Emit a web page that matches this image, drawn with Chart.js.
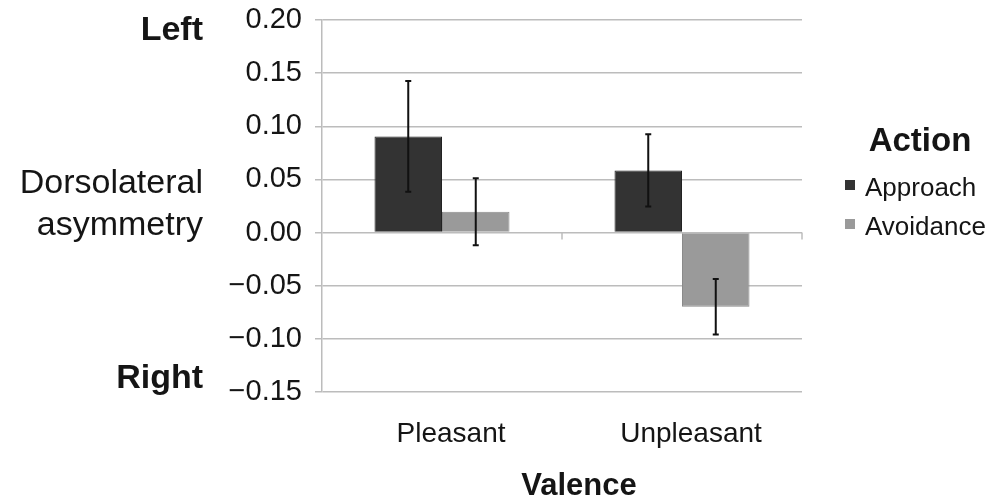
<!DOCTYPE html>
<html><head><meta charset="utf-8">
<script src="https://cdn.jsdelivr.net/npm/chart.js@4.4.1/dist/chart.umd.min.js"></script>
<style>html,body{margin:0;padding:0;background:#fff;} canvas{display:block}</style>
</head><body>
<canvas id="c" width="991" height="497"></canvas>
<script>
const categories = ['Pleasant', 'Unpleasant'];
const seriesNames = ['Approach', 'Avoidance'];
const approachValues = [0.0905, 0.0585];
const approachErrors = [0.052, 0.034];
const avoidanceValues = [0.0195, -0.0698];
const avoidanceErrors = [0.0315, 0.026];
const yMin = -0.15, yMax = 0.20, yStep = 0.05;
const legendTitle = 'Action';
const xTitle = 'Valence';
const yTitleLines = ['Dorsolateral', 'asymmetry'];
const yTopLabel = 'Left';
const yBottomLabel = 'Right';

const FONT = "'Liberation Sans', Arial, Helvetica, sans-serif";
const TEXT = '#151515';
const GRID = '#bcbcbc';
const colors = ['#333333', '#9a9a9a'];
const borders = ['#222222', '#8a8a8a'];
const errors = [approachErrors, avoidanceErrors];

const errorBars = {
  id: 'errorBars',
  afterDatasetsDraw(chart) {
    const ctx = chart.ctx, ys = chart.scales.y;
    ctx.save();
    ctx.strokeStyle = '#111';
    ctx.lineWidth = 2;
    chart.data.datasets.forEach((ds, i) => {
      const meta = chart.getDatasetMeta(i);
      meta.data.forEach((el, j) => {
        const v = ds.data[j], e = errors[i][j];
        const yt = ys.getPixelForValue(v + e), yb = ys.getPixelForValue(v - e);
        const x = el.x;
        ctx.beginPath();
        ctx.moveTo(x, yt); ctx.lineTo(x, yb);
        ctx.moveTo(x - 3, yt); ctx.lineTo(x + 3, yt);
        ctx.moveTo(x - 3, yb); ctx.lineTo(x + 3, yb);
        ctx.stroke();
      });
    });
    ctx.restore();
  }
};

const decorations = {
  id: 'decorations',
  afterDraw(chart) {
    const ctx = chart.ctx, xs = chart.scales.x, ys = chart.scales.y, ca = chart.chartArea;
    ctx.save();
    const y0 = ys.getPixelForValue(0);
    ctx.strokeStyle = GRID; ctx.lineWidth = 1.5;
    const n = categories.length;
    for (let i = 1; i <= n; i++) {
      const bx = i < n ? (xs.getPixelForValue(i - 1) + xs.getPixelForValue(i)) / 2 : ca.right;
      ctx.beginPath(); ctx.moveTo(bx, y0); ctx.lineTo(bx, y0 + 7); ctx.stroke();
    }
    ctx.fillStyle = TEXT;
    ctx.textAlign = 'right';
    ctx.textBaseline = 'alphabetic';
    ctx.font = 'bold 34px ' + FONT;
    ctx.fillText(yTopLabel, 203, 40);
    ctx.fillText(yBottomLabel, 203, 388);
    ctx.font = '34px ' + FONT;
    ctx.fillText(yTitleLines[0], 203, 193);
    ctx.fillText(yTitleLines[1], 203, 235);
    ctx.textAlign = 'center';
    ctx.font = 'bold 31px ' + FONT;
    ctx.fillText(xTitle, 579, 495);
    ctx.font = 'bold 33px ' + FONT;
    ctx.fillText(legendTitle, 920, 151);
    ctx.textAlign = 'left';
    ctx.font = '26px ' + FONT;
    const rows = [196, 235];
    chart.data.datasets.forEach((ds, i) => {
      ctx.fillStyle = colors[i];
      ctx.fillRect(845, rows[i] - 16, 10, 10);
      ctx.fillStyle = TEXT;
      ctx.fillText(ds.label, 865, rows[i]);
    });
    ctx.restore();
  }
};

new Chart(document.getElementById('c'), {
  type: 'bar',
  data: {
    labels: categories,
    datasets: [
      { label: seriesNames[0], data: approachValues, backgroundColor: colors[0], borderColor: borders[0], borderWidth: 1 },
      { label: seriesNames[1], data: avoidanceValues, backgroundColor: colors[1], borderColor: borders[1], borderWidth: 1 }
    ]
  },
  options: {
    responsive: false,
    devicePixelRatio: 1,
    animation: false,
    layout: { padding: { top: 0, right: 189, bottom: 0, left: 0 } },
    datasets: { bar: { categoryPercentage: 0.5625, barPercentage: 1.0 } },
    plugins: { legend: { display: false }, tooltip: { enabled: false }, title: { display: false } },
    scales: {
      x: {
        grid: { display: false, drawTicks: false },
        border: { display: false },
        ticks: { font: { family: FONT, size: 28 }, color: TEXT, padding: 25, labelOffset: 9 },
        afterFit(scale) { scale.height = 105; }
      },
      y: {
        min: yMin, max: yMax,
        grid: { color: GRID, lineWidth: 1.5, tickLength: 7, drawTicks: true },
        border: { display: true, color: GRID, width: 1.5 },
        ticks: {
          stepSize: yStep,
          font: { family: FONT, size: 29 }, color: TEXT, padding: 13,
          callback(v) { return Math.abs(v) < 1e-9 ? '0.00' : (v < 0 ? '\u2212' + Math.abs(v).toFixed(2) : v.toFixed(2)); }
        },
        afterFit(scale) { scale.width = 322; scale.paddingTop = 20; }
      }
    }
  },
  plugins: [errorBars, decorations]
});
</script>
</body></html>
